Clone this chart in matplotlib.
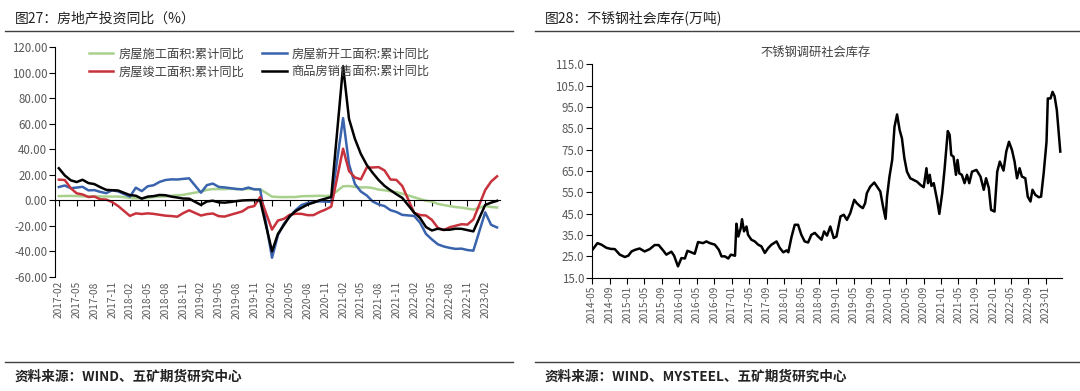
import matplotlib
matplotlib.use("Agg")
import matplotlib.pyplot as plt
import matplotlib.dates as mdates
from matplotlib.lines import Line2D
from matplotlib.ticker import FuncFormatter, FixedLocator
import pandas as pd
import numpy as np

plt.rcParams['font.family'] = ['Noto Sans CJK SC', 'DejaVu Sans']
plt.rcParams['axes.unicode_minus'] = False

# ---------------- left chart data (cumulative YoY %, Jan merged into Feb) ----------------
left_start = "2017-02"
left_end = "2023-04"
construction = [3.3, 3.4, 3.5, 3.3, 3.2, 3.0, 3.1, 3.0, 3.0, 2.9, 3.0,
                1.9, 1.6, 1.7, 1.8, 2.5, 2.9, 3.0, 3.6, 4.0, 4.3, 5.2,
                6.8, 8.2, 8.8, 8.8, 8.8, 9.0, 8.8, 8.7, 9.0, 8.7, 8.7,
                2.9, 2.6, 2.5, 2.6, 2.6, 3.2, 3.3, 3.4, 3.6, 3.4, 3.7,
                11.0, 11.2, 10.5, 10.1, 10.2, 9.6, 8.4, 7.9, 7.1, 6.4, 5.2,
                2.4, 1.0, -0.3, -1.0, -2.8, -3.7, -4.5, -5.3, -5.7, -6.5, -7.2,
                -4.4, -5.2, -5.6]
new_starts = [10.4, 11.6, 9.5, 10.0, 10.6, 7.8, 8.0, 6.6, 5.6, 7.9, 7.0,
              2.9, 9.9, 7.2, 11.0, 11.8, 14.4, 15.9, 16.4, 16.3, 16.8, 17.2,
              6.0, 11.9, 13.1, 10.5, 10.1, 9.5, 8.9, 8.6, 10.0, 8.6, 8.5,
              -44.9, -27.2, -18.4, -12.8, -7.6, -3.6, -2.1, -1.4, -0.8, -1.0, -1.2,
              64.3, 28.2, 12.8, 6.9, 3.8, -0.9, -3.2, -4.5, -7.7, -9.1, -11.4,
              -12.2, -17.5, -26.3, -30.6, -34.4, -36.1, -37.2, -38.0, -37.8, -38.9, -39.4,
              -9.4, -19.2, -21.2]
completions = [16.2, 15.9, 9.6, 5.5, 4.6, 2.6, 3.0, 0.8, 0.6, -1.4, -4.4,
               -12.2, -10.2, -10.7, -10.2, -10.6, -11.3, -12.0, -12.3, -12.8, -10.0, -7.8,
               -11.9, -10.8, -10.3, -12.4, -12.7, -11.3, -10.0, -8.6, -5.5, -4.5, 2.6,
               -22.9, -15.8, -14.5, -11.3, -10.5, -10.6, -11.6, -11.6, -9.2, -7.3, -4.9,
               40.4, 22.9, 17.9, 16.4, 25.7, 25.7, 26.0, 23.4, 16.3, 16.0, 11.2,
               -9.8, -11.5, -11.9, -15.3, -21.5, -23.3, -21.1, -19.9, -18.7, -19.0, -15.0,
               8.0, 14.7, 18.8]
sales = [25.1, 19.5, 15.7, 14.3, 16.1, 13.5, 12.7, 10.3, 8.2, 7.9, 7.7,
         4.1, 3.6, 1.3, 2.9, 3.3, 4.2, 4.0, 2.9, 2.2, 1.4, 1.3,
         -3.6, -0.9, -0.3, -1.6, -1.8, -1.3, -0.6, -0.1, 0.1, 0.2, -0.1,
         -39.9, -26.3, -19.3, -12.3, -8.4, -5.8, -3.3, -1.8, 0.0, 1.3, 2.6,
         104.9, 63.8, 48.1, 36.3, 27.7, 21.5, 15.9, 11.3, 7.9, 4.8, 1.9,
         -9.6, -13.8, -20.9, -23.6, -22.2, -23.1, -23.0, -22.2, -22.3, -23.3, -24.3,
         -3.6, -1.8, -0.4]
left_names = ["房屋施工面积:累计同比", "房屋新开工面积:累计同比",
              "房屋竣工面积:累计同比", "商品房销售面积:累计同比"]

# ---------------- right chart data (万吨) ----------------
stock_dates = ["2014-05-01", "2014-06-08", "2014-07-05", "2014-08-10", "2014-09-09", "2014-10-07",
               "2014-11-11", "2014-12-16", "2015-01-09", "2015-02-01", "2015-02-23", "2015-03-29",
               "2015-05-03", "2015-06-08", "2015-07-12", "2015-08-09", "2015-09-09", "2015-10-02",
               "2015-11-06", "2015-11-25", "2015-12-22", "2016-01-15", "2016-02-08", "2016-02-26",
               "2016-03-24", "2016-04-17", "2016-05-10", "2016-06-14", "2016-07-07", "2016-07-31",
               "2016-09-04", "2016-10-02", "2016-10-21", "2016-11-14", "2016-12-07", "2016-12-25",
               "2017-01-23", "2017-02-02", "2017-02-15", "2017-03-04", "2017-03-13", "2017-03-27",
               "2017-04-13", "2017-04-24", "2017-05-17", "2017-06-10", "2017-07-03", "2017-07-26",
               "2017-08-19", "2017-09-12", "2017-10-05", "2017-11-09", "2017-12-02", "2017-12-26",
               "2018-01-18", "2018-01-30", "2018-02-22", "2018-03-16", "2018-04-08", "2018-05-01",
               "2018-05-24", "2018-06-17", "2018-07-10", "2018-08-03", "2018-08-26", "2018-09-19",
               "2018-10-07", "2018-10-27", "2018-11-19", "2018-12-13", "2019-01-01", "2019-01-29",
               "2019-02-21", "2019-03-15", "2019-04-07", "2019-05-05", "2019-05-23", "2019-06-16",
               "2019-07-04", "2019-07-20", "2019-08-01", "2019-08-25", "2019-09-22", "2019-10-11",
               "2019-11-03", "2019-11-22", "2019-12-10", "2019-12-20", "2020-01-06", "2020-01-25",
               "2020-02-10", "2020-02-28", "2020-03-17", "2020-04-02", "2020-04-19", "2020-05-07",
               "2020-05-30", "2020-06-23", "2020-07-16", "2020-08-09", "2020-09-01", "2020-09-20",
               "2020-10-01", "2020-10-13", "2020-10-25", "2020-11-10", "2020-12-03", "2020-12-19",
               "2021-01-08", "2021-01-24", "2021-02-16", "2021-03-01", "2021-03-12", "2021-03-28",
               "2021-04-14", "2021-04-25", "2021-05-07", "2021-05-25", "2021-06-13", "2021-06-30",
               "2021-07-16", "2021-08-04", "2021-09-04", "2021-10-02", "2021-10-25", "2021-11-10",
               "2021-11-29", "2021-12-15", "2022-01-08", "2022-01-27", "2022-02-14", "2022-03-12",
               "2022-03-31", "2022-04-19", "2022-05-10", "2022-05-28", "2022-06-14", "2022-07-02",
               "2022-07-18", "2022-08-11", "2022-08-28", "2022-09-16", "2022-09-30", "2022-10-20",
               "2022-11-13", "2022-11-29", "2022-12-17", "2023-01-06", "2023-01-15", "2023-02-03",
               "2023-02-17", "2023-03-03", "2023-03-19", "2023-04-12"]
stock_values = [27.8, 31.2, 30.5, 29.0, 28.5, 28.4,
                25.8, 24.7, 25.3, 27.3, 28.0, 28.7,
                27.3, 28.4, 30.3, 30.3, 27.8, 25.8,
                27.2, 25.3, 20.3, 24.2, 24.0, 27.6,
                26.9, 26.2, 31.7, 31.2, 32.0, 31.2,
                30.5, 28.1, 25.0, 25.0, 24.0, 25.8,
                25.3, 40.3, 34.3, 38.2, 42.4, 36.7,
                39.0, 35.1, 32.8, 32.0, 30.5, 29.7,
                26.6, 28.9, 30.5, 32.0, 28.9, 26.9,
                27.8, 26.9, 34.3, 39.8, 39.8, 35.1,
                32.0, 31.5, 35.1, 36.0, 34.3, 32.8,
                36.7, 34.7, 39.0, 33.6, 34.3, 43.7,
                44.5, 42.1, 45.2, 51.5, 49.9, 48.4,
                47.6, 49.9, 54.6, 57.7, 59.6, 57.7,
                55.4, 48.4, 42.6, 53.0, 62.4, 70.2,
                85.7, 91.5, 84.2, 80.3, 71.0, 64.7,
                61.6, 60.8, 60.0, 58.5, 57.4, 66.3,
                59.3, 63.2, 58.0, 59.3, 51.5, 44.9,
                54.6, 65.5, 83.7, 81.9, 72.5, 71.7,
                63.2, 70.2, 63.9, 63.2, 59.3, 63.2,
                59.3, 64.7, 65.5, 62.4, 56.2, 61.6,
                57.1, 46.8, 46.0, 64.7, 69.4, 65.2,
                74.1, 78.7, 74.8, 69.4, 61.6, 66.3,
                62.4, 61.6, 53.0, 50.7, 56.2, 53.8,
                52.7, 53.0, 63.9, 78.7, 99.0, 99.0,
                102.1, 100.1, 93.5, 74.1]

# ---------------- figure ----------------
W, H = 1080, 391
fig = plt.figure(figsize=(W / 100, H / 100), dpi=100)
tick_color = '#595959'

# titles and rules
fig.text(15 / W, 1 - 18 / H, "图27：房地产投资同比（%）", fontsize=10, color='#222222', va='center', ha='left')
fig.text(545 / W, 1 - 18 / H, "图28：不锈钢社会库存(万吨)", fontsize=10, color='#222222', va='center', ha='left')
for x0, x1 in [(5, 513), (535, 1080)]:
    fig.add_artist(Line2D([x0 / W, x1 / W], [1 - 31 / H] * 2, color='#404040', lw=1.0))
    fig.add_artist(Line2D([x0 / W, x1 / W], [1 - 362 / H] * 2, color='#404040', lw=1.0))
fig.text(15 / W, 1 - 377 / H, "资料来源：WIND、五矿期货研究中心", fontsize=9.8, color='#222222',
         va='center', ha='left', fontweight='bold')
fig.text(545 / W, 1 - 377 / H, "资料来源：WIND、MYSTEEL、五矿期货研究中心", fontsize=9.8, color='#222222',
         va='center', ha='left', fontweight='bold')

# ---------------- left chart ----------------
months = pd.date_range(left_start, left_end, freq='MS')
months = months[months.month != 1]
xl = (months.year - 2017) * 12 + (months.month - 1)

axL = fig.add_axes([55 / W, 1 - 277 / H, 445 / W, 230 / H])
colors = ['#A9D18E', '#3A63AD', '#C8323C', '#000000']
series = [construction, new_starts, completions, sales]
handles = []
for s, c, n in zip(series, colors, left_names):
    h, = axL.plot(xl, s, color=c, lw=1.8, label=n, solid_joinstyle='round')
    handles.append(h)

axL.set_ylim(-60, 120)
axL.set_yticks(np.arange(-60, 121, 20))
axL.yaxis.set_major_formatter(FuncFormatter(lambda v, p: f"{v:.2f}"))
axL.set_xlim(0.35, 75.5)
tick_pos = np.arange(1, 74, 3)
tick_lab = [f"{2017 + (t // 12)}-{t % 12 + 1:02d}" for t in tick_pos]
axL.xaxis.set_major_locator(FixedLocator(tick_pos))
axL.spines['bottom'].set_position(('data', 0))
axL.spines['top'].set_visible(False)
axL.spines['right'].set_visible(False)
axL.spines['left'].set_color('#000000')
axL.spines['bottom'].set_color('#000000')
axL.tick_params(axis='x', direction='out', length=4, color='#000000', labelbottom=False)
axL.tick_params(axis='y', direction='out', length=4, color='#000000', labelsize=8.3, labelcolor=tick_color, pad=1.5)
secL = axL.secondary_xaxis('bottom')
secL.set_xticks(tick_pos, tick_lab)
secL.tick_params(length=0, labelsize=7.3, labelcolor=tick_color, rotation=90, pad=3)
secL.spines['bottom'].set_visible(False)
axL.set_facecolor('none')

leg = axL.legend([handles[0], handles[2], handles[1], handles[3]],
                 [left_names[0], left_names[2], left_names[1], left_names[3]],
                 ncol=2, loc='upper left', bbox_to_anchor=(0.065, 1.02), frameon=False,
                 fontsize=8.8, handlelength=2.0, handletextpad=0.4, columnspacing=1.5,
                 labelspacing=0.4, borderaxespad=0)
for t in leg.get_texts():
    t.set_color('#404040')

# ---------------- right chart ----------------
sd = pd.to_datetime(stock_dates)
axR = fig.add_axes([592 / W, 1 - 277.7 / H, 470 / W, 213.4 / H])
axR.plot(sd, stock_values, color='#000000', lw=1.8, solid_joinstyle='round')
axR.set_ylim(15, 115)
axR.set_yticks(np.arange(15, 116, 10))
axR.yaxis.set_major_formatter(FuncFormatter(lambda v, p: f"{v:.1f}"))
axR.set_xlim(pd.Timestamp("2014-05-01"), pd.Timestamp("2023-04-24"))
axR.xaxis.set_major_locator(mdates.MonthLocator(bymonth=[1, 5, 9]))
axR.xaxis.set_major_formatter(mdates.DateFormatter('%Y-%m'))
axR.spines['top'].set_visible(False)
axR.spines['right'].set_visible(False)
axR.tick_params(axis='x', direction='out', length=4, labelsize=7.3, labelcolor=tick_color,
                rotation=90, pad=2)
axR.tick_params(axis='y', direction='out', length=4, labelsize=8.3, labelcolor=tick_color, pad=1.5)
fig.text(816 / W, 1 - 52 / H, "不锈钢调研社会库存", fontsize=8.8, color='#404040', ha='center', va='center')

fig.savefig("out.png", dpi=100)
